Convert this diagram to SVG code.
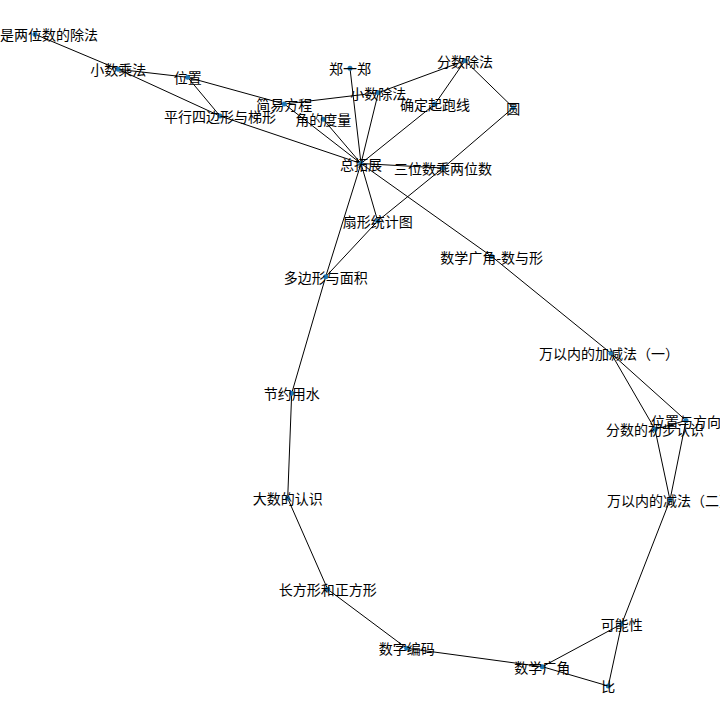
<svg xmlns="http://www.w3.org/2000/svg" width="720" height="720" viewBox="0 0 720 720">
<style>
.e line{stroke:#000;stroke-width:1;fill:none}
.n circle{fill:#1f77b4}
.n text{font-family:"Noto Sans CJK SC","Noto Sans",sans-serif;font-size:14px;fill:#000;text-anchor:middle;dominant-baseline:central}
</style>
<rect width="720" height="720" fill="#fff"/>
<g id="edges" class="e">
<line x1="35" y1="34.3" x2="118.3" y2="69.3"/>
<line x1="118.3" y1="69.3" x2="187.7" y2="77.3"/>
<line x1="118.3" y1="69.3" x2="220" y2="116"/>
<line x1="187.7" y1="77.3" x2="220" y2="116"/>
<line x1="187.7" y1="77.3" x2="284.3" y2="104"/>
<line x1="220" y1="116" x2="361" y2="163.5"/>
<line x1="284.3" y1="104" x2="378.3" y2="92.7"/>
<line x1="284.3" y1="104" x2="361" y2="163.5"/>
<line x1="323.3" y1="119.3" x2="361" y2="163.5"/>
<line x1="350" y1="68.3" x2="361" y2="163.5"/>
<line x1="378.3" y1="92.7" x2="361" y2="163.5"/>
<line x1="378.3" y1="92.7" x2="465" y2="60.7"/>
<line x1="465" y1="60.7" x2="435" y2="104"/>
<line x1="435" y1="104" x2="361" y2="163.5"/>
<line x1="465" y1="60.7" x2="513.3" y2="107.7"/>
<line x1="513.3" y1="107.7" x2="443" y2="168"/>
<line x1="443" y1="168" x2="377.7" y2="221"/>
<line x1="361" y1="163.5" x2="443" y2="168"/>
<line x1="361" y1="163.5" x2="377.7" y2="221"/>
<line x1="377.7" y1="221" x2="325.7" y2="276.7"/>
<line x1="361" y1="163.5" x2="325.7" y2="276.7"/>
<line x1="325.7" y1="276.7" x2="291.7" y2="393.3"/>
<line x1="361" y1="163.5" x2="491.7" y2="256.5"/>
<line x1="491.7" y1="256.5" x2="611" y2="353.3"/>
<line x1="611" y1="353.3" x2="686" y2="420.5"/>
<line x1="611" y1="353.3" x2="655" y2="429.3"/>
<line x1="655" y1="429.3" x2="686" y2="420.5"/>
<line x1="686" y1="420.5" x2="670" y2="500"/>
<line x1="655" y1="429.3" x2="670" y2="500"/>
<line x1="670" y1="500" x2="621.7" y2="624"/>
<line x1="621.7" y1="624" x2="608.3" y2="686"/>
<line x1="542.3" y1="666.7" x2="621.7" y2="624"/>
<line x1="542.3" y1="666.7" x2="608.3" y2="686"/>
<line x1="406.7" y1="648.3" x2="542.3" y2="666.7"/>
<line x1="327.7" y1="589.3" x2="406.7" y2="648.3"/>
<line x1="287.7" y1="498.3" x2="327.7" y2="589.3"/>
<line x1="291.7" y1="393.3" x2="287.7" y2="498.3"/>
</g>
<g class="n">
<g id="n1"><circle cx="35" cy="34.3" r="2.5"/><text x="35" y="34.3">除数是两位数的除法</text></g>
<g id="n2"><circle cx="118.3" cy="69.3" r="2.5"/><text x="118.3" y="69.3">小数乘法</text></g>
<g id="n3"><circle cx="187.7" cy="77.3" r="2.5"/><text x="187.7" y="77.3">位置</text></g>
<g id="n4"><circle cx="220" cy="116" r="2.5"/><text x="220" y="116">平行四边形与梯形</text></g>
<g id="n5"><circle cx="284.3" cy="104" r="2.5"/><text x="284.3" y="104">简易方程</text></g>
<g id="n6"><circle cx="323.3" cy="119.3" r="2.5"/><text x="323.3" y="119.3">角的度量</text></g>
<g id="n7"><circle cx="350" cy="68.3" r="2.5"/><text x="350" y="68.3">郑一郑</text></g>
<g id="n8"><circle cx="378.3" cy="92.7" r="2.5"/><text x="378.3" y="92.7">小数除法</text></g>
<g id="n9"><circle cx="465" cy="60.7" r="2.5"/><text x="465" y="60.7">分数除法</text></g>
<g id="n10"><circle cx="435" cy="104" r="2.5"/><text x="435" y="104">确定起跑线</text></g>
<g id="n11"><circle cx="513.3" cy="107.7" r="2.5"/><text x="513.3" y="107.7">圆</text></g>
<g id="n12"><circle cx="361" cy="163.5" r="2.5"/><text x="361" y="163.5">总拓展</text></g>
<g id="n13"><circle cx="443" cy="168" r="2.5"/><text x="443" y="168">三位数乘两位数</text></g>
<g id="n14"><circle cx="377.7" cy="221" r="2.5"/><text x="377.7" y="221">扇形统计图</text></g>
<g id="n15"><circle cx="491.7" cy="256.5" r="2.5"/><text x="491.7" y="256.5">数学广角-数与形</text></g>
<g id="n16"><circle cx="325.7" cy="276.7" r="2.5"/><text x="325.7" y="276.7">多边形与面积</text></g>
<g id="n17"><circle cx="611" cy="353.3" r="2.5"/><text x="609" y="353.3">万以内的加减法（一）</text></g>
<g id="n18"><circle cx="686" cy="420.5" r="2.5"/><text x="686" y="420.5">位置与方向</text></g>
<g id="n19"><circle cx="655" cy="429.3" r="2.5"/><text x="655" y="429.3">分数的初步认识</text></g>
<g id="n20"><circle cx="670" cy="500" r="2.5"/><text x="670" y="500">万以内的减法（二）</text></g>
<g id="n21"><circle cx="291.7" cy="393.3" r="2.5"/><text x="291.7" y="393.3">节约用水</text></g>
<g id="n22"><circle cx="287.7" cy="498.3" r="2.5"/><text x="287.7" y="498.3">大数的认识</text></g>
<g id="n23"><circle cx="327.7" cy="589.3" r="2.5"/><text x="327.7" y="589.3">长方形和正方形</text></g>
<g id="n24"><circle cx="406.7" cy="648.3" r="2.5"/><text x="406.7" y="648.3">数字编码</text></g>
<g id="n25"><circle cx="542.3" cy="666.7" r="2.5"/><text x="542.3" y="666.7">数学广角</text></g>
<g id="n26"><circle cx="621.7" cy="624" r="2.5"/><text x="621.7" y="624">可能性</text></g>
<g id="n27"><circle cx="608.3" cy="686" r="2.5"/><text x="608.3" y="686">比</text></g>
</g>
</svg>
